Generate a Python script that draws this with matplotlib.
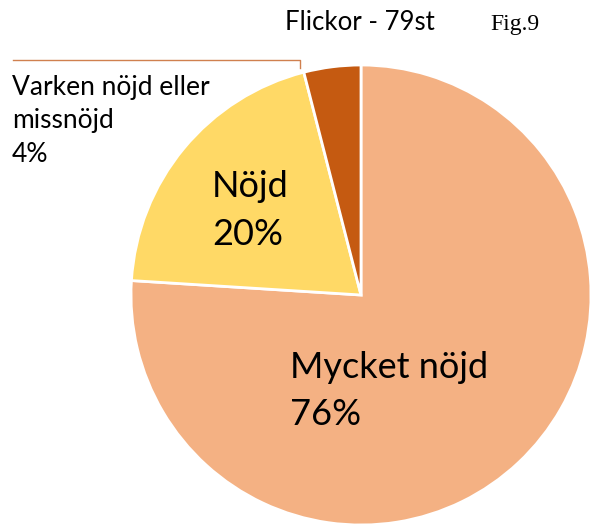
import matplotlib

matplotlib.use("Agg")
import matplotlib.pyplot as plt

labels = ["Mycket nöjd", "Nöjd", "Varken nöjd eller\nmissnöjd"]
shares = [76, 20, 4]
colors = ["#F4B183", "#FFD966", "#C55A11"]

plt.rcParams["font.family"] = ["Lato", "DejaVu Sans"]

fig = plt.figure(figsize=(5.98, 5.27), dpi=100)
ax = fig.add_axes([0, 0, 1, 1])
ax.set_xlim(0, 598)
ax.set_ylim(0, 527)
ax.set_aspect("equal")
ax.axis("off")

H = 527
cx, cy, r = 361, H - 295, 230
wedges, _ = ax.pie(
    shares,
    colors=colors,
    startangle=90,
    counterclock=False,
    radius=r,
    center=(cx, cy),
    wedgeprops={"edgecolor": "white", "linewidth": 2},
)
ax.set_xlim(0, 598)
ax.set_ylim(0, H)


def label(x, baselines, lines, size):
    # one text per line so the line gaps follow the reference
    for b, s in zip(baselines, lines):
        ax.text(x, H - b, s, fontsize=size, ha="left", va="baseline")


label(290, [378, 425], [labels[0], f"{shares[0]}%"], 26)
label(212, [197, 245], [labels[1], f"{shares[1]}%"], 26)
label(12, [95, 128, 162], labels[2].split("\n") + [f"{shares[2]}%"], 19)

# leader line for the small slice
ax.plot([13, 300, 300], [H - 60, H - 60, H - 68], color="#D0804F", linewidth=1)

ax.text(285, H - 30, "Flickor - 79st", fontsize=18.5, ha="left", va="baseline")
ax.text(490, H - 30, "Fig.9", fontsize=17, ha="left", va="baseline",
        family="Liberation Serif")

fig.savefig("out.png", dpi=100)
